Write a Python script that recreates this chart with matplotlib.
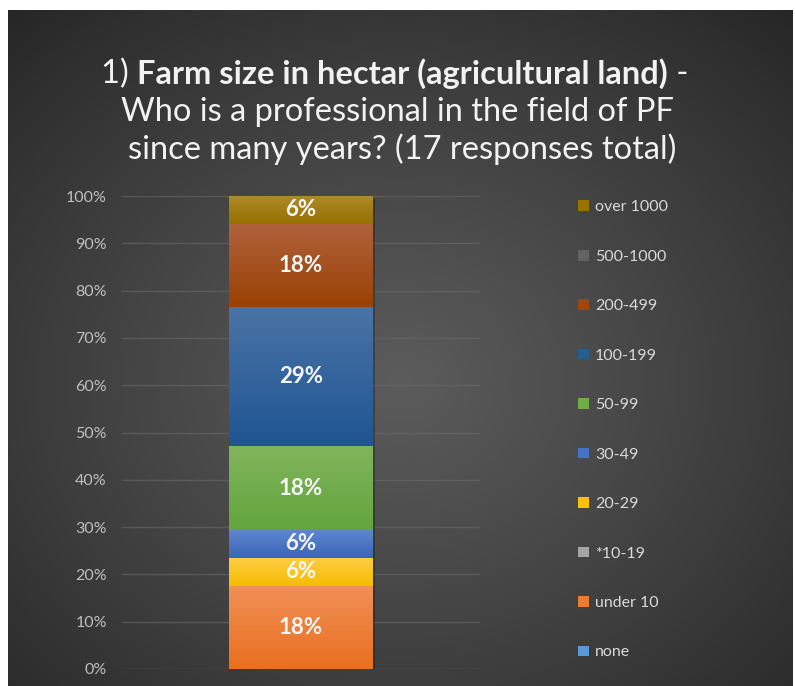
import numpy as np
import matplotlib
matplotlib.use("Agg")
import matplotlib.pyplot as plt
from matplotlib.colors import LinearSegmentedColormap, to_rgb
from matplotlib.patches import Patch
from matplotlib.ticker import FuncFormatter, MultipleLocator

plt.rcParams['font.family'] = ['Lato', 'DejaVu Sans']

# survey answers, bottom of the stack first
categories = ['none', 'under 10', '*10-19', '20-29', '30-49', '50-99',
              '100-199', '200-499', '500-1000', 'over 1000']
counts = [0, 3, 0, 1, 1, 3, 5, 3, 0, 1]
total = 17

colors = {
    'none': '#5B9BD5', '*10-19': '#A5A5A5', 'under 10': '#ED7D31',
    '20-29': '#FFC000', '30-49': '#4472C4', '50-99': '#70AD47',
    '100-199': '#255E91', '200-499': '#9E480E', '500-1000': '#636363',
    'over 1000': '#997300',
}
# lighter shade at the top of each segment
tops = {
    'none': '#7DB1E0', '*10-19': '#BDBDBD', 'under 10': '#F19058',
    '20-29': '#FFCD45', '30-49': '#5F86CF', '50-99': '#80B55C',
    '100-199': '#4A74A6', '200-499': '#B0623C', '500-1000': '#7A7A7A',
    'over 1000': '#AE8A2A',
}
bottoms = {
    'none': '#4A8CC9', '*10-19': '#989898', 'under 10': '#E8701E',
    '20-29': '#F5BC00', '30-49': '#3A66B8', '50-99': '#63A53C',
    '100-199': '#1F5592', '200-499': '#9A4104', '500-1000': '#585858',
    'over 1000': '#967000',
}

W, H = 795, 686
fig = plt.figure(figsize=(W / 100, H / 100), dpi=100)
fig.patch.set_facecolor('white')

# dark radial background panel
bg = fig.add_axes([8 / W, 0, (793 - 8) / W, (H - 10) / H])
bg.set_axis_off()
yy, xx = np.mgrid[0:1:400j, 0:1:460j]
r = np.sqrt(((xx - 0.5) / 0.75) ** 2 + ((yy - 0.45) / 0.75) ** 2)
shade = np.clip(1 - r, 0, 1)
lo, hi = np.array(to_rgb('#252525')), np.array(to_rgb('#5C5C5C'))
img = lo + (hi - lo) * shade[..., None] ** 0.9
bg.imshow(img, aspect='auto', extent=(0, 1, 0, 1), origin='lower')
bg.set_xlim(0, 1)
bg.set_ylim(0, 1)

ax = fig.add_axes([122 / W, (H - 669) / H, (480 - 122) / W, (669 - 196) / H])
ax.set_facecolor('none')
for s in ax.spines.values():
    s.set_visible(False)

share = {c: n / total * 100 for c, n in zip(categories, counts)}
bottom = 0
bw = 0.4
for c in categories:
    v = share[c]
    ax.bar(0, v, bw, bottom=bottom, color=colors[c], zorder=3)
    if v > 0:
        cmap = LinearSegmentedColormap.from_list(c, [bottoms[c], tops[c]])
        grad = np.linspace(0, 1, 64).reshape(-1, 1)
        ax.imshow(grad, cmap=cmap, aspect='auto', origin='lower', zorder=4,
                  extent=(-bw / 2, bw / 2, bottom, bottom + v))
        ax.text(0, bottom + v / 2, f'{v:.0f}%', ha='center', va='center',
                color='#F7F7F7', fontsize=16, fontweight='bold', zorder=5)
    bottom += v

# soft shadow on the column
ax.bar(0.006, bottom, bw, bottom=-0.6, color='black', alpha=0.25, zorder=2)

ax.set_xlim(-0.5, 0.5)
ax.set_ylim(0, 100)
ax.set_xticks([])
ax.yaxis.set_major_locator(MultipleLocator(10))
ax.yaxis.set_major_formatter(FuncFormatter(lambda v, p: f'{v:.0f}%'))
ax.tick_params(axis='y', length=0, pad=11, labelsize=11.5, labelcolor='#BFBFBF')
ax.grid(axis='y', color='#6A6A6A', linewidth=1, alpha=0.6, zorder=1)

handles = [Patch(facecolor=colors[c], edgecolor='none') for c in categories[::-1]]
leg = fig.legend(handles, categories[::-1], loc='upper left',
                 bbox_to_anchor=(564 / W, 1 - 186 / H), frameon=False,
                 fontsize=11.5, labelcolor='#D9D9D9', handlelength=0.65,
                 handleheight=0.65, handletextpad=0.4, labelspacing=2.22)

# title, first line mixes regular and bold runs
title_color = '#F2F2F2'
fs = 23.5
fig.canvas.draw()
rend = fig.canvas.get_renderer()
parts = [('1) ', 'normal'), ('Farm size in hectar (agricultural land)', 'bold'), (' -', 'normal')]
objs = [fig.text(0, 1 - 74 / H, t, fontsize=fs, fontweight=w, color=title_color,
                 va='center', ha='left') for t, w in parts]
widths = [o.get_window_extent(rend).width for o in objs]
x = (W / 2 - 3) - sum(widths) / 2
for o, w in zip(objs, widths):
    o.set_x(x / W)
    x += w
fig.text(397 / W, 1 - 112 / H, 'Who is a professional in the field of PF',
         fontsize=fs, color=title_color, ha='center', va='center')
fig.text(402 / W, 1 - 149 / H, 'since many years? (17 responses total)',
         fontsize=fs, color=title_color, ha='center', va='center')

fig.savefig('out.png', dpi=100, facecolor=fig.get_facecolor())
